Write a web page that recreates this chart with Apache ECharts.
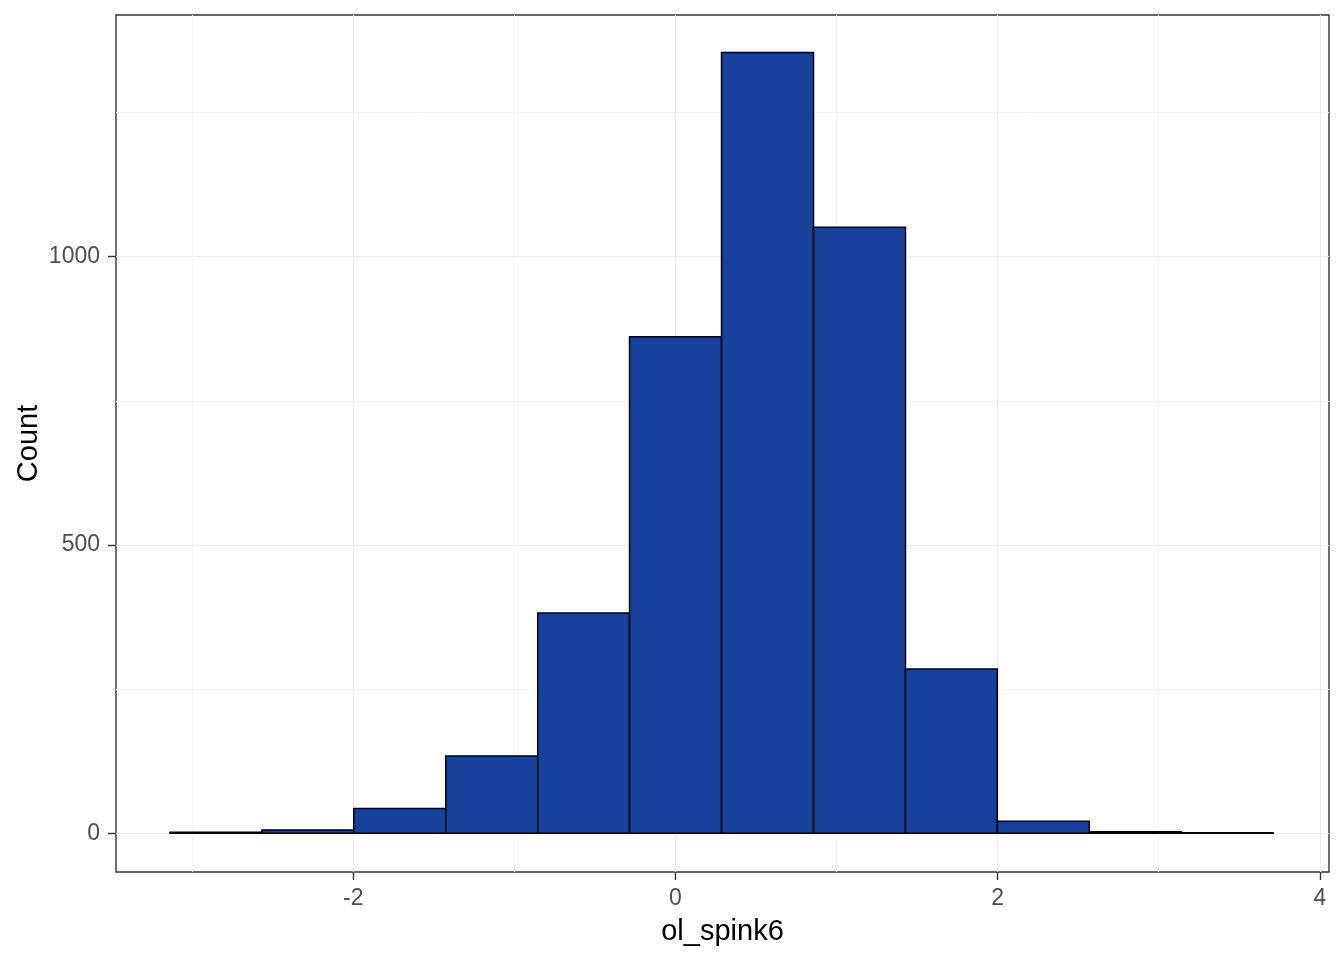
<!DOCTYPE html>
<html>
<head>
<meta charset="utf-8">
<script src="https://cdn.jsdelivr.net/npm/echarts@6/dist/echarts.min.js"></script>
<style>
html,body{margin:0;padding:0;background:#fff;}
#chart{width:1344px;height:960px;}
</style>
</head>
<body>
<div id="chart"></div>
<script>
// Histogram bin edges (x values) and counts
const binEdges = [-3.138, -2.567, -1.997, -1.426, -0.855, -0.285, 0.286, 0.857, 1.428, 1.998, 2.569, 3.140, 3.710];
const counts = [2, 6, 43, 134, 382, 861, 1354, 1051, 285, 21, 3, 1];
const xTicks = [-2, 0, 2, 4];
const xMinorTicks = [-3, -1, 1, 3];
const yTicks = [0, 500, 1000];
const yMinorTicks = [250, 750, 1250];
const xRange = [-3.473, 4.057];
const yRange = [-67, 1419];
const xTitle = 'ol_spink6';
const yTitle = 'Count';

const data = counts.map((c, i) => [binEdges[i], binEdges[i + 1], c]);

const chart = echarts.init(document.getElementById('chart'), null, {renderer: 'canvas'});
const font = 'Liberation Sans, Arial, sans-serif';
const plain = v => String(v);
const option = {
  animation: false,
  grid: {left: 116, right: 15, top: 15, bottom: 88, show: true, borderColor: '#333333', borderWidth: 1.4, backgroundColor: 'transparent'},
  xAxis: [{
    type: 'value', min: xRange[0], max: xRange[1],
    name: xTitle, nameLocation: 'middle', nameGap: 45, nameMoveOverlap: false,
    nameTextStyle: {color: '#000', fontSize: 29, fontFamily: font},
    axisLine: {show: false, onZero: false},
    axisTick: {show: true, inside: false, length: 8, customValues: xTicks, lineStyle: {color: '#333333', width: 1.4}},
    axisLabel: {show: true, customValues: xTicks, formatter: plain, color: '#4D4D4D', fontSize: 23, fontFamily: font, margin: 15},
    splitLine: {show: true, lineStyle: {color: '#EBEBEB', width: 1.2}}
  }, {
    type: 'value', min: xRange[0], max: xRange[1], position: 'bottom',
    axisLine: {show: false, onZero: false},
    axisTick: {show: false, customValues: xMinorTicks},
    axisLabel: {show: false, customValues: xMinorTicks},
    splitLine: {show: true, lineStyle: {color: '#F4F4F4', width: 1}}
  }],
  yAxis: [{
    type: 'value', min: yRange[0], max: yRange[1],
    name: yTitle, nameLocation: 'middle', nameGap: 73, nameRotate: 90, nameMoveOverlap: false,
    nameTextStyle: {color: '#000', fontSize: 29, fontFamily: font},
    axisLine: {show: false, onZero: false},
    axisTick: {show: true, inside: false, length: 8, customValues: yTicks, lineStyle: {color: '#333333', width: 1.4}},
    axisLabel: {show: true, customValues: yTicks, formatter: plain, color: '#4D4D4D', fontSize: 23, fontFamily: font, margin: 16, padding: [4, 0, 0, 0]},
    splitLine: {show: true, lineStyle: {color: '#EBEBEB', width: 1.2}}
  }, {
    type: 'value', min: yRange[0], max: yRange[1], position: 'left',
    axisLine: {show: false, onZero: false},
    axisTick: {show: false, customValues: yMinorTicks},
    axisLabel: {show: false, customValues: yMinorTicks},
    splitLine: {show: true, lineStyle: {color: '#F4F4F4', width: 1}}
  }],
  series: [{
    type: 'custom',
    xAxisIndex: 0, yAxisIndex: 0,
    data: data,
    encode: {x: [0, 1], y: 2},
    z: 10,
    renderItem: function (params, api) {
      const p0 = api.coord([api.value(0), api.value(2)]);
      const p1 = api.coord([api.value(1), 0]);
      return {
        type: 'rect',
        shape: {x: p0[0], y: p0[1], width: p1[0] - p0[0], height: p1[1] - p0[1]},
        style: {fill: '#17419A', stroke: '#000000', lineWidth: 1.5}
      };
    }
  }]
};
chart.setOption(option);
</script>
</body>
</html>
